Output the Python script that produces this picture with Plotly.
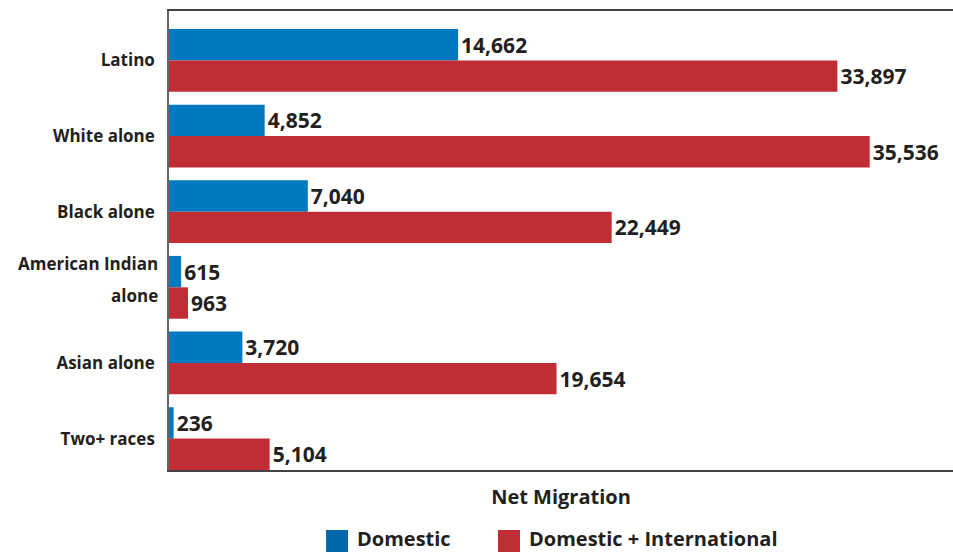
import plotly.graph_objects as go

categories = ["Latino", "White alone", "Black alone", "American Indian alone", "Asian alone", "Two+ races"]
tick_labels = ["Latino", "White alone", "Black alone", "", "Asian alone", "Two+ races"]
domestic = [14662, 4852, 7040, 615, 3720, 236]
dom_intl = [33897, 35536, 22449, 963, 19654, 5104]
series_names = ["Domestic", "Domestic + International"]

BLUE = "#0079c1"
RED = "#c12d35"
TXT = "#231f20"
FONT = "Open Sans"

fig = go.Figure()
fig.add_trace(go.Bar(
    y=categories, x=domestic, orientation="h", name=series_names[0],
    marker=dict(color=BLUE, line=dict(width=0)),
    text=[f"{v:,}" for v in domestic], textposition="outside",
    textfont=dict(family=FONT, size=21, color=TXT, weight="bold"),
    cliponaxis=False, showlegend=False,
))
fig.add_trace(go.Bar(
    y=categories, x=dom_intl, orientation="h", name=series_names[1],
    marker=dict(color=RED, line=dict(width=0)),
    text=[f"{v:,}" for v in dom_intl], textposition="outside",
    textfont=dict(family=FONT, size=21, color=TXT, weight="bold"),
    cliponaxis=False, showlegend=False,
))

fig.update_layout(
    width=953, height=552,
    margin=dict(l=169, r=0, t=11, b=82),
    barmode="group", bargap=0.17, bargroupgap=0,
    plot_bgcolor="white", paper_bgcolor="white",
    font=dict(family=FONT, color=TXT),
    showlegend=False,
)
fig.update_xaxes(
    range=[0, 39760], showticklabels=False, showgrid=False, zeroline=False,
    showline=True, linecolor="#444", linewidth=1.5, mirror=True, ticks="",
    title=dict(text="Net Migration", font=dict(family=FONT, size=20, color=TXT, weight="bold"), standoff=19),
)
fig.update_yaxes(
    type="category", categoryorder="array", categoryarray=categories,
    tickmode="array", tickvals=categories, ticktext=tick_labels,
    range=[5.415, -0.653], showgrid=False, zeroline=False,
    showline=True, linecolor="#666", linewidth=1.5, mirror=False, ticks="",
    ticklabelstandoff=9,
    tickfont=dict(family=FONT, size=17, color=TXT, weight="bold"),
)

# two-line label for American Indian alone with wide line spacing
for txt, shift in (("American Indian", 24), ("alone", -8)):
    fig.add_annotation(
        x=0, xref="paper", xanchor="right", xshift=-9,
        y=categories[3], yref="y", yanchor="middle", yshift=shift,
        text=txt, showarrow=False,
        font=dict(family=FONT, size=17, color=TXT, weight="bold"),
    )

# manual legend below the chart
legend_items = [(series_names[0], "#0068a8", 0.2003, 0.2283, 0.2372),
                (series_names[1], RED, 0.4196, 0.4477, 0.4566)]
for name, col, x0, x1, xt in legend_items:
    fig.add_shape(type="rect", xref="paper", yref="paper",
                  x0=x0, x1=x1, y0=-0.1307, y1=-0.179,
                  fillcolor=col, line=dict(width=0))
    fig.add_annotation(x=xt, xref="paper", xanchor="left",
                       y=-0.1495, yref="paper", yanchor="middle",
                       text=name, showarrow=False,
                       font=dict(family=FONT, size=20, color=TXT, weight="bold"))

fig.write_html("out.html", config={"displayModeBar": False},
               post_script="document.body.style.margin='0';document.body.style.overflow='hidden';")
